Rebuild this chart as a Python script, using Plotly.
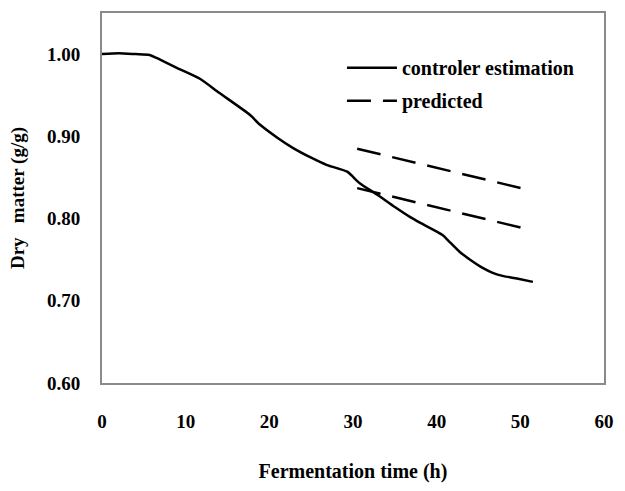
import plotly.graph_objects as go

# Controller estimation (solid)
t_est = [0, 2, 4, 5.7, 7, 9, 11.7, 14, 17.7, 18.9, 21, 22.8, 25, 26.9, 29.3, 30.8,
         32.9, 35, 36.8, 38, 40.7, 41.6, 42.8, 44, 45.5, 46.7, 48, 49.6, 51.5]
y_est = [1.000, 1.001, 1.000, 0.999, 0.993, 0.983, 0.970, 0.953, 0.926, 0.914, 0.898,
         0.886, 0.874, 0.865, 0.857, 0.843, 0.829, 0.814, 0.802, 0.795, 0.780, 0.771,
         0.759, 0.750, 0.740, 0.734, 0.730, 0.727, 0.723]

# Predicted (dashed), two segments
t_pred = [30.5, 50.9]
y_pred_upper = [0.885, 0.835]
y_pred_lower = [0.837, 0.787]

x_ticks = [0, 10, 20, 30, 40, 50, 60]
y_ticks = [0.60, 0.70, 0.80, 0.90, 1.00]

FONT = "Liberation Serif"

fig = go.Figure()
fig.add_trace(go.Scatter(x=t_est, y=y_est, mode="lines", name="<b>controler estimation</b>",
                         line=dict(color="black", width=2.5, shape="spline", smoothing=0.6)))
fig.add_trace(go.Scatter(x=t_pred, y=y_pred_upper, mode="lines", name="<b>predicted</b>",
                         legendgroup="pred",
                         line=dict(color="black", width=2.5, dash="24px,12px")))
fig.add_trace(go.Scatter(x=t_pred, y=y_pred_lower, mode="lines", name="<b>predicted</b>",
                         legendgroup="pred", showlegend=False,
                         line=dict(color="black", width=2.5, dash="24px,12px")))

fig.update_layout(
    width=625, height=491,
    margin=dict(l=102, r=21, t=13, b=108),
    paper_bgcolor="white", plot_bgcolor="white",
    font=dict(family=FONT, size=19, color="black"),
    showlegend=True,
    legend=dict(x=0.478, y=0.905, xanchor="left", yanchor="top",
                bgcolor="rgba(0,0,0,0)", font=dict(family=FONT, size=20),
                tracegroupgap=4, itemwidth=50),
    xaxis=dict(range=[0, 60], tickvals=x_ticks, ticktext=[f"<b>{v}</b>" for v in x_ticks],
               showgrid=False, zeroline=False, showline=True, mirror=True,
               linecolor="#8a8a8a", linewidth=2, ticks="", ticklabelstandoff=20,
               title=dict(text="<b>Fermentation time (h)</b>", font=dict(family=FONT, size=20),
                          standoff=33),
               automargin=False),
    yaxis=dict(range=[0.6, 1.05], tickvals=y_ticks, ticktext=[f"<b>{v:.2f}</b>" for v in y_ticks],
               showgrid=False, zeroline=False, showline=True, mirror=True,
               linecolor="#8a8a8a", linewidth=2, ticks="", ticklabelstandoff=16,
               title=dict(text="<b>Dry   matter (g/g)</b>", font=dict(family=FONT, size=19),
                          standoff=17),
               automargin=False),
)

fig.write_html("out.html")
